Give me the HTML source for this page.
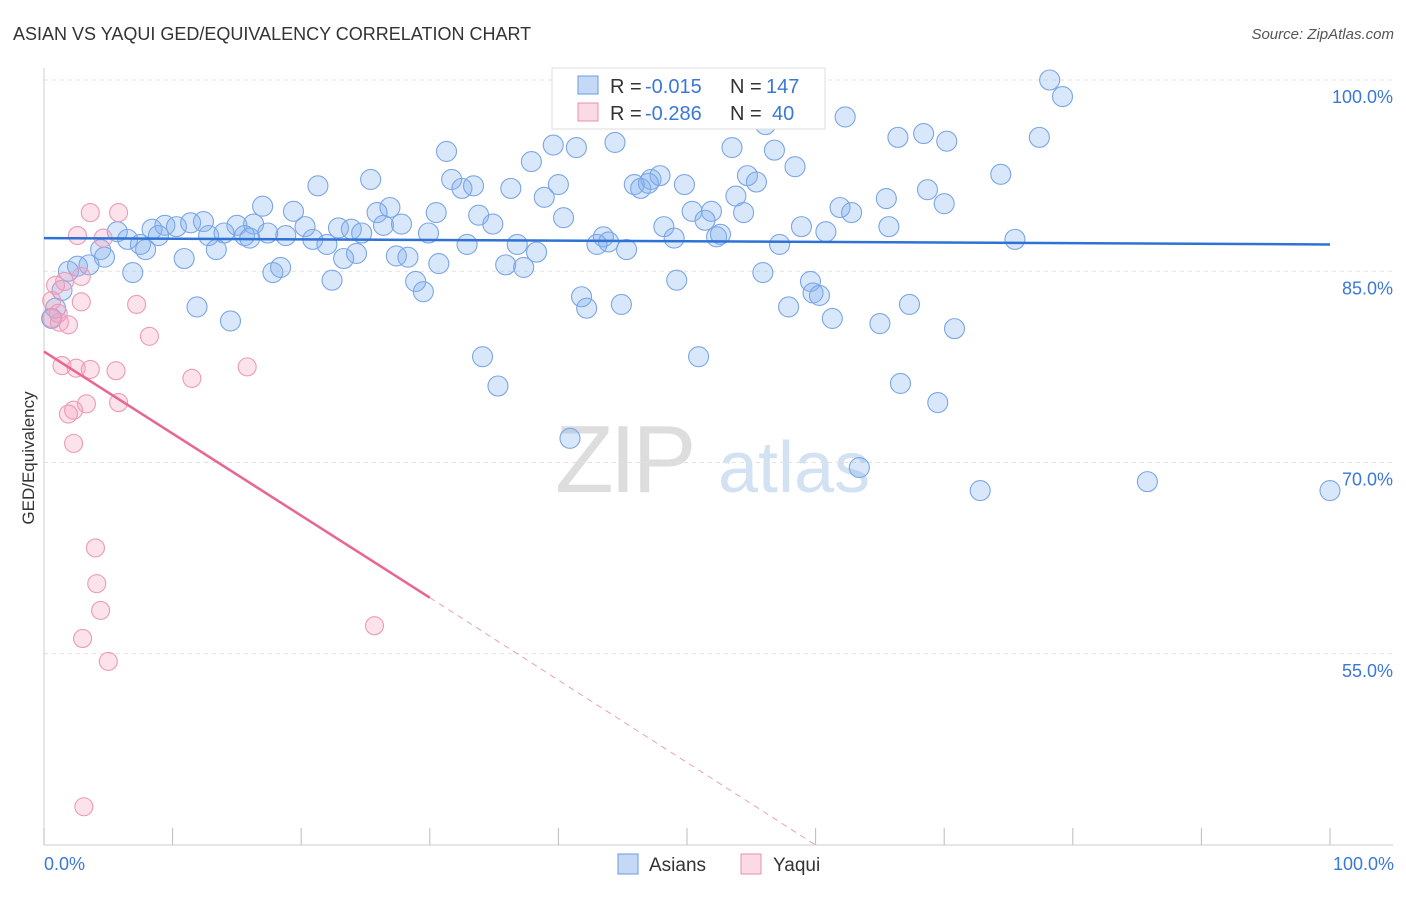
<!DOCTYPE html>
<html><head><meta charset="utf-8"><style>
body{margin:0;background:#fff;font-family:"Liberation Sans",sans-serif}
svg text{font-family:"Liberation Sans",sans-serif}
</style></head><body>
<svg id="chart" width="1406" height="892" viewBox="0 0 1406 892" xmlns="http://www.w3.org/2000/svg">
<text x="13" y="40" font-size="18" fill="#333">ASIAN VS YAQUI GED/EQUIVALENCY CORRELATION CHART</text>
<text x="1394" y="39" font-size="15" fill="#555" text-anchor="end" font-style="italic">Source: ZipAtlas.com</text>
<g>
<text x="555" y="492" font-size="96" fill="#ddd" font-family="Liberation Serif" letter-spacing="-4">ZIP</text>
<text x="718" y="492" font-size="72" fill="#d3e2f3">atlas</text>
</g>
<g id="grid"></g>
<g id="axes"></g>
<g id="pts"></g>
<g id="lines"></g>
<text transform="translate(34,458) rotate(-90)" font-size="17" fill="#333" text-anchor="middle">GED/Equivalency</text>
<g>
<rect x="552" y="68" width="273" height="61" fill="#fff" stroke="#ddd"/>
<rect x="578" y="76" width="20" height="18" fill="rgba(110,160,235,0.4)" stroke="#6a9ae0"/>
<text x="610" y="93" font-size="20" fill="#333">R =</text>
<text x="645" y="93" font-size="20" fill="#3a78d8">-0.015</text>
<text x="730" y="93" font-size="20" fill="#333">N =</text>
<text x="766" y="93" font-size="20" fill="#3a78d8">147</text>
<rect x="578" y="103" width="20" height="18" fill="rgba(245,160,190,0.4)" stroke="#e890ae"/>
<text x="610" y="120" font-size="20" fill="#333">R =</text>
<text x="645" y="120" font-size="20" fill="#3a78d8">-0.286</text>
<text x="730" y="120" font-size="20" fill="#333">N =</text>
<text x="772" y="120" font-size="20" fill="#3a78d8">40</text>
</g>
<g>
<rect x="618" y="854" width="20" height="20" fill="rgba(110,160,235,0.4)" stroke="#6a9ae0"/>
<text x="649" y="871" font-size="19" fill="#333">Asians</text>
</g>
<g>
<rect x="741" y="854" width="20" height="20" fill="rgba(245,160,190,0.4)" stroke="#e890ae"/>
<text x="773" y="871" font-size="19" fill="#333">Yaqui</text>
</g>
</svg>
<script>
const yTicks=[100,85,70,55];
const yTickLabels=["100.0%","85.0%","70.0%","55.0%"];
const xEndLabels=["0.0%","100.0%"];
const asianX=[78.2,79.2,62.3,56.1,44.4,39.6,41.4,31.3,53.5,56.8,66.4,68.4,70.2,77.4,37.9,58.4,31.7,25.4,21.3,32.5,33.4,36.3,40.0,45.9,46.4,47.2,47.9,47.0,49.8,54.7,55.4,53.8,38.9,65.5,68.7,74.4,26.9,17.0,19.4,25.9,30.5,33.8,40.4,50.4,51.9,54.4,61.9,62.8,70.0,8.4,9.4,10.3,11.4,12.4,15.0,16.3,20.3,22.9,23.9,26.4,27.8,34.9,48.2,51.4,58.9,65.7,60.8,5.7,6.5,7.5,8.9,12.8,14.0,15.6,16.0,17.4,18.8,20.9,22.0,24.7,29.9,32.9,36.8,43.5,43.9,43.0,49.0,52.3,52.6,57.2,75.5,7.9,4.4,4.7,13.4,10.9,24.3,23.3,27.4,28.3,30.7,35.9,37.3,38.3,45.3,3.5,2.6,1.9,6.9,17.8,18.4,22.4,28.9,29.5,49.2,55.9,59.6,59.8,60.3,1.4,0.9,0.6,11.9,14.5,41.8,42.2,44.9,57.9,61.3,65.0,67.3,70.8,34.1,50.9,35.3,66.6,69.5,40.9,63.4,72.8,85.8,100];
const asianY=[100,98.7,97.1,96.5,95.1,94.9,94.7,94.4,94.7,94.5,95.5,95.8,95.2,95.5,93.6,93.2,92.2,92.2,91.7,91.5,91.7,91.5,91.8,91.8,91.5,92.2,92.5,91.9,91.8,92.5,92.0,90.9,90.8,90.7,91.4,92.6,90.0,90.1,89.7,89.6,89.6,89.4,89.2,89.7,89.7,89.6,90.0,89.6,90.3,88.3,88.6,88.5,88.8,88.9,88.6,88.7,88.5,88.4,88.3,88.6,88.7,88.7,88.5,89.0,88.5,88.5,88.1,88.1,87.5,87.1,87.8,87.8,88.0,87.8,87.6,88.0,87.8,87.5,87.1,88.0,88.0,87.1,87.1,87.7,87.3,87.1,87.6,87.7,87.9,87.1,87.5,86.7,86.7,86.1,86.7,86.0,86.4,86.0,86.2,86.1,85.6,85.5,85.3,86.5,86.7,85.5,85.4,85.0,84.9,84.9,85.3,84.3,84.2,83.4,84.3,84.9,84.2,83.3,83.1,83.5,82.1,81.3,82.2,81.1,83.0,82.1,82.4,82.2,81.3,80.9,82.4,80.5,78.3,78.3,76.0,76.2,74.7,71.9,69.6,67.8,68.5,67.8];
const yaquiX=[3.6,5.8,2.6,4.6,1.6,2.9,0.9,0.6,2.9,7.2,0.6,1.2,1.9,1.1,8.2,1.4,2.5,3.6,5.6,15.8,11.5,3.3,5.8,2.3,1.9,2.3,4.0,4.1,4.4,3.0,25.7,5.0,3.1];
const yaquiY=[89.6,89.6,87.8,87.6,84.2,84.6,83.9,82.7,82.6,82.4,81.3,81.0,80.8,81.7,79.9,77.6,77.4,77.3,77.2,77.5,76.6,74.6,74.7,74.1,73.8,71.5,63.3,60.5,58.4,56.2,57.2,54.4,43.0];
const asianTrend=[87.6,87.1];
const yaquiTrend=[78.7,59.4,40.0];
const NS="http://www.w3.org/2000/svg";
const X=v=>44+v*12.86;
const Y=v=>80+(100-v)*12.75;
function mk(tag,attrs,parent){const e=document.createElementNS(NS,tag);for(const k in attrs)e.setAttribute(k,attrs[k]);parent.appendChild(e);return e;}
const grid=document.getElementById('grid'),axes=document.getElementById('axes'),pts=document.getElementById('pts'),lines=document.getElementById('lines');
yTicks.forEach((t,i)=>{
 const l=mk('line',{x1:44,x2:1393,y1:Y(t),y2:Y(t),stroke:'#e2e2e2','stroke-dasharray':'4,4'},grid);
 
 
 const tx=mk('text',{x:1393,y:Y(t)+23,'font-size':18,fill:'#3a78d8','text-anchor':'end'},axes);
 tx.textContent=yTickLabels[i];
 
 
});
const ax=mk('line',{x1:44,x2:44,y1:68,y2:845,stroke:'#ccc'},axes);


const bx=mk('line',{x1:44,x2:1393,y1:845,y2:845,stroke:'#ccc'},axes);


for(let i=0;i<=10;i++){
 const t=mk('line',{x1:X(i*10),x2:X(i*10),y1:828,y2:845,stroke:'#bbb'},axes);
 
 
}
[[0,'start'],[100,'end']].forEach((p,i)=>{
 const tx=mk('text',{x:i?1394:44,y:870,'font-size':18,fill:'#3a78d8','text-anchor':p[1]},axes);
 tx.textContent=xEndLabels[i];
 
 
});
asianX.forEach((v,i)=>{
 const c=mk('circle',{cx:X(v),cy:Y(asianY[i]),r:10,fill:'rgba(130,175,240,0.3)',stroke:'#7aa6e6','stroke-width':1.1},pts);
 
 
});
yaquiX.forEach((v,i)=>{
 const c=mk('circle',{cx:X(v),cy:Y(yaquiY[i]),r:9,fill:'rgba(245,160,190,0.3)',stroke:'#ec9ab6','stroke-width':1.1},pts);
 
 
});
const bl=mk('line',{x1:X(0),y1:Y(asianTrend[0]),x2:X(100),y2:Y(asianTrend[1]),stroke:'#2f72d6','stroke-width':2.5},lines);


const pl=mk('line',{x1:X(0),y1:Y(yaquiTrend[0]),x2:X(30),y2:Y(yaquiTrend[1]),stroke:'#e8668f','stroke-width':2.5},lines);


const pd=mk('line',{x1:X(30),y1:Y(yaquiTrend[1]),x2:X(60),y2:Y(yaquiTrend[2]),stroke:'#e8a0b8','stroke-width':1,'stroke-dasharray':'6,5'},lines);


</script>
</body></html>
